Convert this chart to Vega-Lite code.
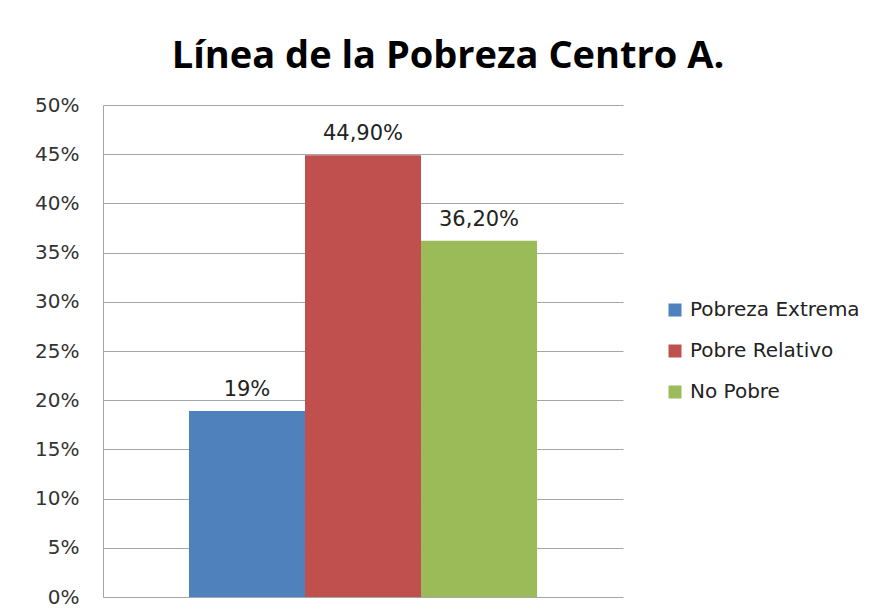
{
  "$schema": "https://vega.github.io/schema/vega-lite/v6.json",
  "width": 520,
  "height": 492,
  "autosize": {"type": "none"},
  "padding": {"left": 103, "top": 105, "right": 253, "bottom": 17},
  "background": "white",
  "title": {
    "text": "Línea de la Pobreza Centro A.",
    "font": "Open Sans",
    "fontSize": 38,
    "fontWeight": "bold",
    "color": "#000000",
    "anchor": "middle",
    "baseline": "alphabetic",
    "dx": 85,
    "offset": -11
  },
  "data": {
    "values": [
      {"categoria": "Pobreza Extrema", "valor": 0.189, "etiqueta": "19%"},
      {"categoria": "Pobre Relativo", "valor": 0.449, "etiqueta": "44,90%"},
      {"categoria": "No Pobre", "valor": 0.362, "etiqueta": "36,20%"}
    ]
  },
  "encoding": {
    "x": {
      "field": "categoria",
      "type": "nominal",
      "sort": ["Pobreza Extrema", "Pobre Relativo", "No Pobre"],
      "scale": {"paddingInner": 0, "paddingOuter": 0.741},
      "axis": null
    },
    "y": {
      "field": "valor",
      "type": "quantitative",
      "scale": {"domain": [0, 0.5]},
      "axis": {
        "title": null,
        "values": [0, 0.05, 0.1, 0.15, 0.2, 0.25, 0.3, 0.35, 0.4, 0.45, 0.5],
        "format": ".0%",
        "labelFont": "DejaVu Sans",
        "labelFontSize": 20,
        "labelColor": "#333333",
        "labelPadding": 24,
        "ticks": false,
        "domainColor": "#a6a6a6",
        "gridColor": "#a6a6a6",
        "gridOpacity": 1
      }
    }
  },
  "layer": [
    {
      "mark": {"type": "bar"},
      "encoding": {
        "color": {
          "field": "categoria",
          "type": "nominal",
          "sort": ["Pobreza Extrema", "Pobre Relativo", "No Pobre"],
          "scale": {
            "domain": ["Pobreza Extrema", "Pobre Relativo", "No Pobre"],
            "range": ["#4F81BD", "#C0504D", "#9BBB59"]
          },
          "legend": {
            "title": null,
            "orient": "none",
            "legendX": 562,
            "legendY": 195,
            "symbolType": "square",
            "symbolSize": 169,
            "symbolStrokeWidth": 0,
            "labelFont": "DejaVu Sans",
            "labelFontSize": 20,
            "labelLimit": 300,
            "labelColor": "#222222",
            "labelOffset": 5,
            "rowPadding": 21,
            "padding": 0
          }
        }
      }
    },
    {
      "mark": {
        "type": "text",
        "baseline": "alphabetic",
        "dy": -15,
        "font": "DejaVu Sans",
        "fontSize": 21,
        "color": "#222222"
      },
      "encoding": {
        "text": {"field": "etiqueta", "type": "nominal"}
      }
    }
  ],
  "config": {
    "view": {"stroke": null}
  }
}
